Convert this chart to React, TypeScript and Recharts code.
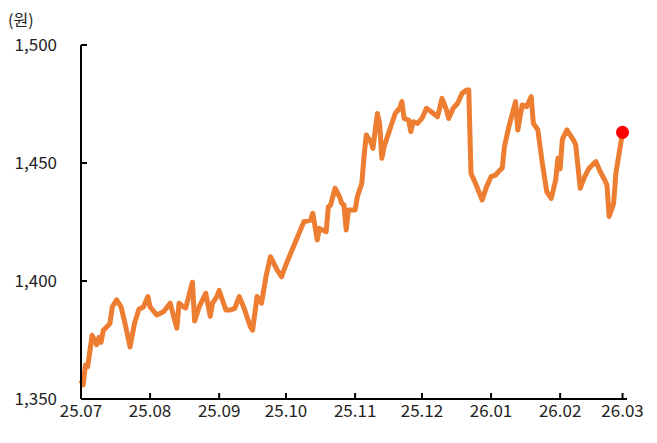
import { LineChart, Line, XAxis, YAxis } from "recharts";

// days since 2025-07-01
const dayOffsets = [
  0, 1, 2, 3, 5, 7, 8, 9, 10, 13, 14, 16, 18, 20, 22, 24, 26, 28, 30, 31, 34, 37, 40, 43, 44, 46, 47,
  50, 51, 53, 56, 58, 59, 61, 62, 65, 67, 69, 71, 73, 76, 77, 79, 81, 83, 85, 88, 90, 92, 100, 103,
  104, 106, 107, 110, 111, 112, 114, 116, 117, 118, 119, 120, 123, 124, 126, 127, 128, 130, 131, 133,
  134, 135, 136, 138, 140, 141, 143, 144, 145, 147, 148, 149, 151, 153, 155, 157, 160, 162, 164, 165,
  167, 169, 171, 173, 174, 175, 177, 180, 182, 184, 186, 188, 189, 190, 192, 195, 196, 197, 198, 200,
  202, 203, 205, 207, 209, 211, 213, 214, 215, 216, 218, 221, 222, 224, 226, 228, 231, 233, 235, 236,
  237, 239, 240, 243,
];

// 원/달러 환율
const usdKrw = [
  1358, 1356, 1364.4, 1363.7, 1377, 1373, 1376, 1374, 1379, 1382, 1389, 1392, 1389, 1381, 1372, 1382,
  1388, 1389, 1393.4, 1389, 1385.6, 1387, 1390.6, 1380, 1390.6, 1389, 1388.6, 1399.5, 1383, 1389,
  1394.8, 1385, 1390.6, 1393.4, 1396, 1387.7, 1387.7, 1388.4, 1393.4, 1389, 1380.6, 1379.2, 1393.4,
  1390.6, 1401.8, 1410.3, 1404.7, 1401.8, 1407, 1425.1, 1425.8, 1428.7, 1417.4, 1422.3, 1420.9, 1431.5,
  1432.2, 1439.3, 1435.7, 1432.9, 1432.2, 1421.6, 1430.1, 1430.1, 1435.7, 1441.4, 1452.7, 1461.9, 1459,
  1456.2, 1471, 1466.8, 1452, 1456.9, 1462.6, 1468.2, 1471, 1473.2, 1476, 1468.9, 1468.2, 1463.3,
  1467.5, 1466.8, 1468.9, 1473.2, 1471.8, 1469.6, 1477.4, 1472.5, 1468.9, 1473.2, 1475.3, 1479.5,
  1480.9, 1480.9, 1445.6, 1441.4, 1434.3, 1440, 1444.2, 1444.9, 1447, 1447.8, 1456.9, 1465.4, 1476,
  1464, 1469.6, 1474.6, 1473.9, 1478.1, 1466.8, 1464, 1449.9, 1437.8, 1435, 1442.8, 1452, 1447.5, 1460,
  1464, 1459.7, 1457.6, 1439.3, 1444.2, 1447.8, 1450.6, 1446.3, 1442.8, 1440.7, 1427.3, 1432.9, 1445.6,
  1463,
];

const monthTicks = [0, 31, 62, 92, 123, 153, 184, 215, 243];
const monthLabels = ["25.07", "25.08", "25.09", "25.10", "25.11", "25.12", "26.01", "26.02", "26.03"];
const yTicks = [1350, 1400, 1450, 1500];

const data = dayOffsets.map((d, i) => ({ d, v: usdKrw[i] }));

const FONT = "'Noto Sans CJK KR', 'Noto Sans', sans-serif";

function LastDot(props: any) {
  const { cx, cy, index } = props;
  if (index !== data.length - 1) return null;
  return <circle key="last" cx={cx} cy={cy} r={6.5} fill="#FF0000" stroke="none" />;
}

export default function App() {
  return (
    <div style={{ position: "absolute", left: 0, top: 0, width: 657, height: 443, background: "#fff" }}>
      <div
        style={{
          position: "absolute",
          left: 8,
          top: 7,
          fontFamily: FONT,
          fontSize: 16,
          color: "#222",
        }}
      >
        (원)
      </div>
      <LineChart
        width={657}
        height={443}
        data={data}
        margin={{ top: 45, right: 30, bottom: 14, left: 0 }}
      >
        <XAxis
          dataKey="d"
          type="number"
          domain={[0, 245]}
          ticks={monthTicks}
          tickFormatter={(v: number) => monthLabels[monthTicks.indexOf(v)]}
          height={30}
          tickSize={-6}
          tickMargin={12}
          axisLine={{ stroke: "#000", strokeWidth: 2 }}
          tickLine={{ stroke: "#000", strokeWidth: 2 }}
          tick={{ fill: "#222", fontSize: 17, fontFamily: FONT }}
          interval={0}
        />
        <YAxis
          type="number"
          domain={[1350, 1500]}
          ticks={yTicks}
          width={81}
          tickSize={-6}
          tickMargin={30}
          tickFormatter={(v: number) => v.toLocaleString("en-US")}
          axisLine={{ stroke: "#000", strokeWidth: 2 }}
          tickLine={{ stroke: "#000", strokeWidth: 2 }}
          tick={{ fill: "#222", fontSize: 17, fontFamily: FONT }}
          interval={0}
        />
        <Line
          type="linear"
          dataKey="v"
          stroke="#ED7D31"
          strokeWidth={5}
          strokeLinejoin="round"
          dot={<LastDot />}
          activeDot={false}
          isAnimationActive={false}
        />
      </LineChart>
    </div>
  );
}
